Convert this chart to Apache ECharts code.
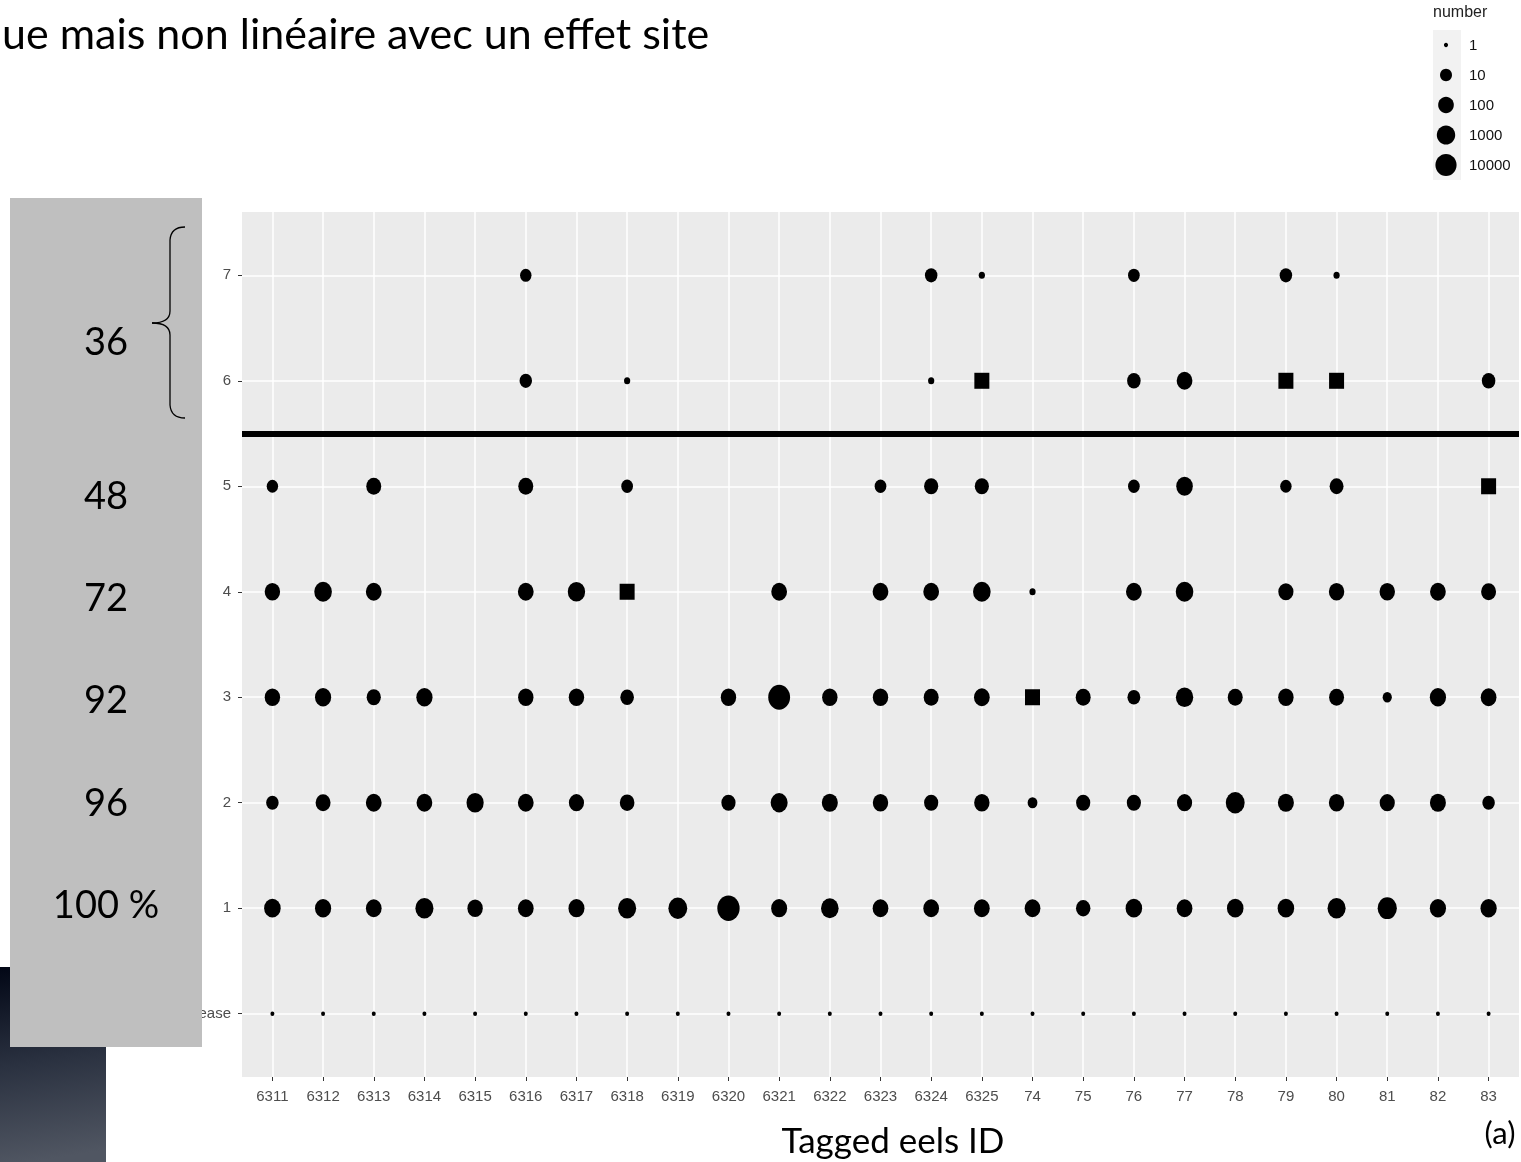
<!DOCTYPE html>
<html>
<head>
<meta charset="utf-8">
<script src="https://cdn.jsdelivr.net/npm/echarts@6/dist/echarts.min.js"></script>
<style>
  html, body { margin: 0; padding: 0; background: #fff; }
  #chart { width: 1521px; height: 1162px; }
</style>
</head>
<body>
<div id="chart"></div>
<script>
// Tagged eels (x) and detection levels (y)
const eels = ['6311','6312','6313','6314','6315','6316','6317','6318','6319','6320',
              '6321','6322','6323','6324','6325','74','75','76','77','78','79','80','81','82','83'];
const levels = ['Release','1','2','3','4','5','6','7'];

// Number of detections per eel at each level (null = none)
const nRelease = [1,1,1,1,1,1,1,1,1,1,1,1,1,1,1,1,1,1,1,1,1,1,1,1,1];
const nLevel1 = [400,300,200,1500,150,200,250,1500,3000,60000,250,1000,200,200,200,200,70,400,200,400,400,1500,4000,300,300];
const nLevel2 = [20,100,200,200,700,200,120,80,null,60,600,250,150,60,150,6,60,60,120,3000,250,150,120,250,20];
const nLevel3 = [150,300,60,300,null,150,150,40,null,150,40000,150,150,100,200,null,100,25,800,100,150,100,5,300,200];
const nLevel4 = [150,1000,200,null,null,200,800,null,null,null,200,null,200,200,1000,2,null,200,1000,null,120,150,150,200,100];
const nLevel5 = [10,null,100,null,null,100,null,12,null,null,null,null,12,60,60,null,null,12,400,null,10,50,null,null,null];
const nLevel6 = [null,null,null,null,null,20,null,2,null,null,null,null,null,2,null,null,null,40,200,null,null,null,null,null,40];
const nLevel7 = [null,null,null,null,null,10,null,null,null,null,null,null,null,20,2,null,null,12,null,null,20,2,null,null,null];
const countsByLevel = [nRelease, nLevel1, nLevel2, nLevel3, nLevel4, nLevel5, nLevel6, nLevel7];

// Last-position markers (eel, level)
const lastPositions = [['6318','4'],['74','3'],['83','5'],['6325','6'],['79','6'],['80','6']];

// Separation between the lower and upper levels
const cutLevel = 5.5;

// Size legend breaks
const legendBreaks = [1, 10, 100, 1000, 10000];

// Survival annotations in the side box
const survivalLabels = ['36','48','72','92','96','100 %'];

// log10 size scale: diameter in px at each decade
const sizeAnchors = [4.5, 13, 17, 20, 23];
function diameter(n) {
  const l = Math.log10(n);
  const i = Math.min(Math.floor(l), sizeAnchors.length - 2);
  const f = l - i;
  return sizeAnchors[i] + f * (sizeAnchors[i + 1] - sizeAnchors[i]);
}

const points = [];
countsByLevel.forEach((row, li) => {
  row.forEach((n, ei) => { if (n != null) points.push([ei, li, n]); });
});
const squares = lastPositions.map(([e, l]) => [eels.indexOf(e), levels.indexOf(l)]);

const chart = echarts.init(document.getElementById('chart'), null, { renderer: 'canvas' });

const xTicks = eels.map((_, i) => i);
const yTicks = levels.map((_, i) => i);
const tickFont = { fontFamily: 'Liberation Sans, Arial, sans-serif', fontSize: 15, color: '#4d4d4d' };
const slideFont = 'Lato, "Open Sans", sans-serif';

function txt(text, x, y, font, align, fill) {
  return { type: 'text', z: 101, style: { text, x, y, font, fill: fill || '#000',
    align, verticalAlign: 'middle', textAlign: align, textVerticalAlign: 'middle' } };
}

const graphics = [];
// dark corner block
graphics.push({ type: 'rect', z: 90, shape: { x: 0, y: 967, width: 106, height: 195 },
  style: { fill: new echarts.graphic.LinearGradient(0, 0, 0.3, 1, [
    { offset: 0, color: '#020716' }, { offset: 0.5, color: '#2a3140' }, { offset: 1, color: '#505662' }]) } });
// side box
graphics.push({ type: 'rect', z: 100, shape: { x: 10, y: 198, width: 192, height: 849 }, style: { fill: '#bfbfbf' } });
const boxY = [343, 497, 599, 701, 804, 906];
survivalLabels.forEach((t, i) => graphics.push(txt(t, 106, boxY[i], '38px ' + slideFont, 'center')));
// brace
const braceStyle = { stroke: '#000', lineWidth: 1.3, fill: null };
graphics.push(
  { type: 'bezierCurve', z: 101, shape: { x1: 185, y1: 227, cpx1: 171, cpy1: 227, x2: 170, y2: 240 }, style: braceStyle },
  { type: 'line', z: 101, shape: { x1: 170, y1: 240, x2: 170, y2: 311 }, style: braceStyle },
  { type: 'bezierCurve', z: 101, shape: { x1: 170, y1: 311, cpx1: 170, cpy1: 323, x2: 152, y2: 323 }, style: braceStyle },
  { type: 'bezierCurve', z: 101, shape: { x1: 152, y1: 323, cpx1: 170, cpy1: 323, x2: 170, y2: 335 }, style: braceStyle },
  { type: 'line', z: 101, shape: { x1: 170, y1: 335, x2: 170, y2: 405 }, style: braceStyle },
  { type: 'bezierCurve', z: 101, shape: { x1: 170, y1: 405, cpx1: 171, cpy1: 418, x2: 185, y2: 418 }, style: braceStyle }
);
// heading
graphics.push(txt('ue mais non linéaire avec un effet site', 2, 35, '43px ' + slideFont, 'left'));
// axis title and panel tag
graphics.push(txt('Tagged eels ID', 893, 1142, '35px ' + slideFont, 'center'));
graphics.push(txt('(a)', 1500, 1134, '31px ' + slideFont, 'center'));
// size legend
graphics.push(txt('number', 1433, 13, '16px Liberation Sans, Arial, sans-serif', 'left', '#222'));
graphics.push({ type: 'rect', z: 100, shape: { x: 1433, y: 30, width: 28, height: 150 }, style: { fill: '#f2f2f2' } });
legendBreaks.forEach((b, i) => {
  const cy = 45 + i * 30;
  const d = diameter(b);
  graphics.push({ type: 'ellipse', z: 101, shape: { cx: 1446, cy: cy, rx: d * 0.46, ry: d * 0.48 }, style: { fill: '#000' } });
  graphics.push(txt(String(b), 1469, cy + 1, '15px Liberation Sans, Arial, sans-serif', 'left', '#111'));
});

chart.setOption({
  animation: false,
  backgroundColor: '#fff',
  grid: { left: 242, right: 2, top: 212, bottom: 85, show: true, backgroundColor: '#ebebeb', borderWidth: 0 },
  xAxis: {
    type: 'value', min: -0.6, max: 24.6,
    axisLine: { show: false, onZero: false },
    axisTick: { show: true, length: 4, customValues: xTicks, lineStyle: { color: '#333', width: 1 } },
    axisLabel: { customValues: xTicks, margin: 12, formatter: v => eels[Math.round(v)], ...tickFont },
    splitLine: { show: true, lineStyle: { color: '#ffffff', width: 1.5 } }
  },
  yAxis: {
    type: 'value', min: -0.6, max: 7.6,
    axisLine: { show: false, onZero: false },
    axisTick: { show: true, length: 4, customValues: yTicks, lineStyle: { color: '#333', width: 1 } },
    axisLabel: { customValues: yTicks, margin: 11, formatter: v => levels[Math.round(v)], ...tickFont },
    splitLine: { show: true, lineStyle: { color: '#ffffff', width: 1.5 } }
  },
  series: [
    {
      type: 'scatter',
      data: points,
      symbol: 'circle',
      symbolSize: v => { const d = diameter(v[2]); return [d * 0.88, d]; },
      itemStyle: { color: '#000', opacity: 1 },
      markLine: {
        silent: true, symbol: 'none', label: { show: false },
        lineStyle: { color: '#000', width: 6, type: 'solid' },
        data: [{ yAxis: cutLevel }]
      },
      z: 3
    },
    {
      type: 'scatter',
      data: squares,
      symbol: 'rect',
      symbolSize: [15, 16],
      itemStyle: { color: '#000', opacity: 1 },
      z: 3
    }
  ],
  graphic: { elements: graphics }
});
</script>
</body>
</html>
